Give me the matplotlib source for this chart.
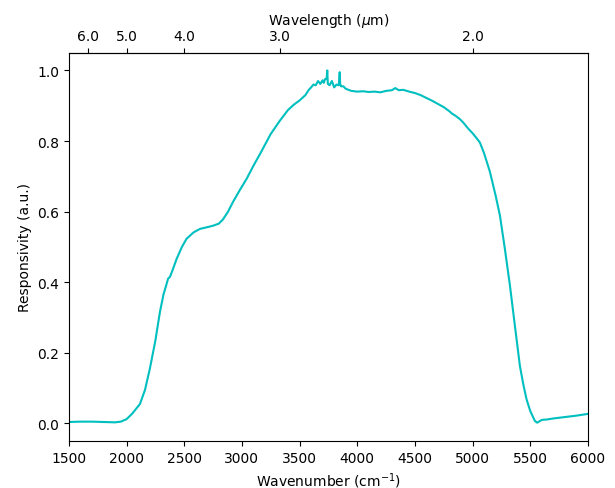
import matplotlib
matplotlib.use("Agg")
import matplotlib.pyplot as plt
import numpy as np

wavenumber = [1500, 1600, 1700, 1800, 1900, 1950, 2000, 2050, 2116, 2160, 2202, 2250, 2289, 2320, 2347, 2360, 2376, 2400,
              2434, 2480, 2520, 2580, 2636, 2700, 2749, 2800, 2836, 2880, 2922, 2980, 3041, 3100, 3160, 3250,
              3330, 3400, 3450, 3500, 3550, 3580, 3600, 3620, 3640, 3660, 3680, 3700, 3710, 3720, 3735, 3740,
              3745, 3760, 3780, 3800, 3820, 3840, 3848, 3852, 3860, 3880, 3900, 3950, 4000, 4050, 4100,
              4150, 4200, 4250, 4300, 4330, 4360, 4400, 4450, 4500, 4550, 4600, 4650, 4700, 4750, 4800,
              4820, 4850, 4890, 4920, 4960, 5000, 5030, 5063, 5100, 5150, 5200, 5237, 5280, 5324, 5367,
              5410, 5440, 5468, 5500, 5540, 5560, 5600, 5642, 5700, 5800, 5900, 6000]
responsivity = [0.004, 0.005, 0.005, 0.004, 0.003, 0.005, 0.012, 0.028, 0.055, 0.095, 0.155, 0.235, 0.315, 0.365, 0.395,
                0.41, 0.415, 0.435, 0.466, 0.50, 0.523, 0.541, 0.551, 0.556, 0.560, 0.566, 0.578, 0.600, 0.627,
                0.660, 0.693, 0.730, 0.765, 0.820, 0.858, 0.888, 0.903, 0.915, 0.930, 0.945, 0.952, 0.960, 0.958,
                0.970, 0.962, 0.972, 0.965, 0.975, 0.978, 1.0, 0.962, 0.958, 0.970, 0.952, 0.960, 0.958, 0.995,
                0.962, 0.955, 0.955, 0.948, 0.942, 0.940, 0.941, 0.939, 0.940, 0.938, 0.942, 0.944, 0.950, 0.944,
                0.945, 0.940, 0.936, 0.930, 0.922, 0.914, 0.905, 0.896, 0.884, 0.878, 0.872, 0.862, 0.852, 0.836,
                0.822, 0.810, 0.796, 0.765, 0.713, 0.645, 0.589, 0.494, 0.390, 0.276, 0.163, 0.110, 0.068, 0.035,
                0.007, 0.002, 0.010, 0.011, 0.014, 0.018, 0.022, 0.027]

wl_ticks = [6.0, 5.0, 4.0, 3.0, 2.0]
wl_labels = ["6.0", "5.0", "4.0", "3.0", "2.0"]

fig = plt.figure(figsize=(6.15, 4.89), dpi=100)
ax = fig.add_axes([0.112, 0.096, 0.844, 0.794])
ax.plot(wavenumber, responsivity, color='c', lw=1.5)
ax.set_xlim(1500, 6000)
ax.set_ylim(-0.05, 1.05)
ax.set_xlabel("Wavenumber (cm$^{-1}$)")
ax.set_ylabel("Responsivity (a.u.)")

def fwd(x):
    x = np.asarray(x, dtype=float)
    with np.errstate(divide='ignore'):
        return 1e4 / x

sec = ax.secondary_xaxis('top', functions=(fwd, fwd))
sec.set_xticks(wl_ticks)
sec.set_xticklabels(wl_labels)
sec.set_xlabel("Wavelength ($\\mu$m)")

fig.savefig("out.png", dpi=100)
